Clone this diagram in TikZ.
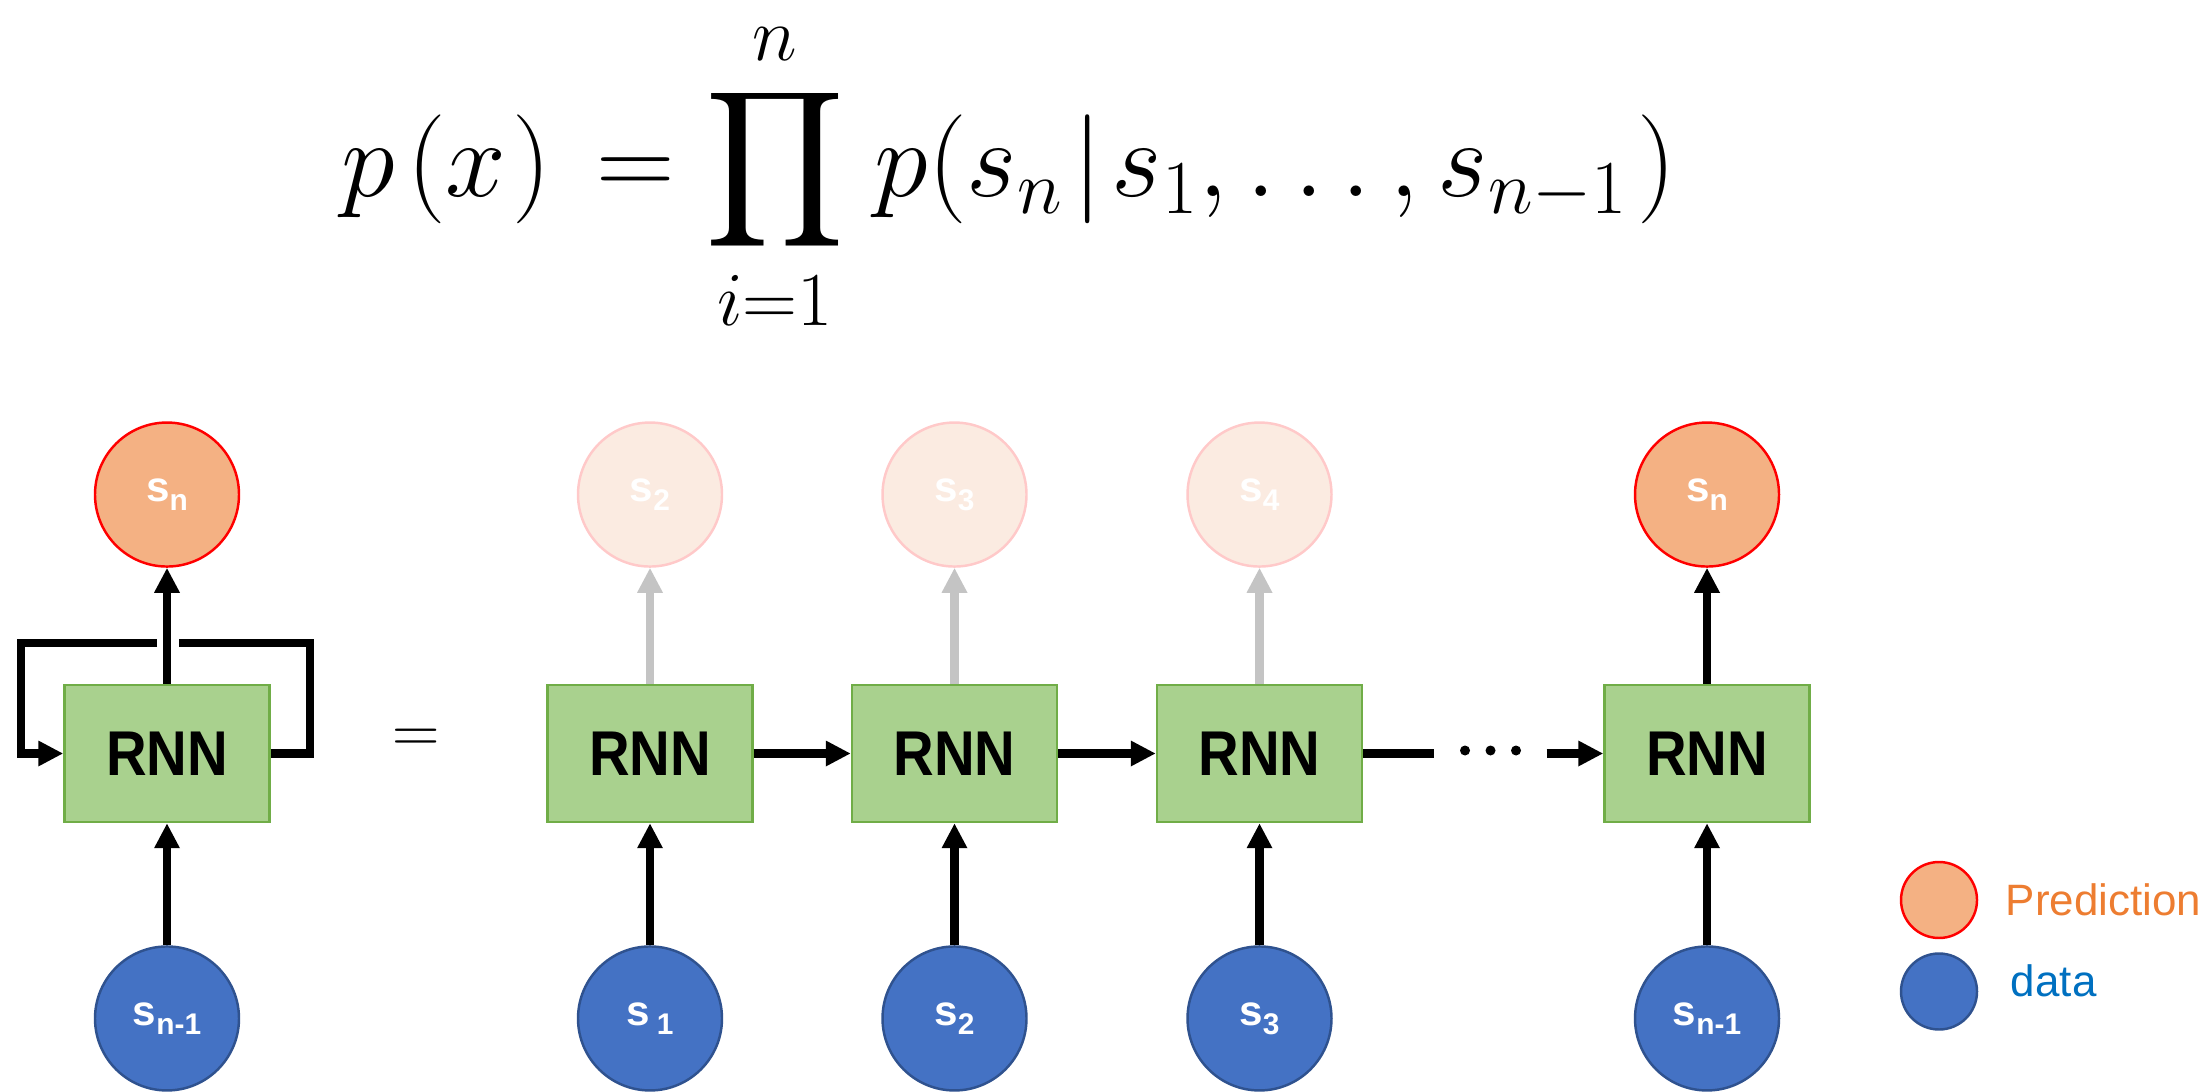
\RequirePackage{fix-cm}
\documentclass[tikz,border=0pt]{standalone}
\usepackage{amsmath,amssymb}
\usepackage{graphicx}
\usepackage{fontspec}
\setmainfont{Liberation Sans}
\usepackage{xcolor}
\usepackage{tikz}
\usetikzlibrary{positioning,arrows.meta,calc}

\definecolor{predfill}{HTML}{F4B183}
\definecolor{prededge}{HTML}{FF0000}
\definecolor{fadefill}{HTML}{FBEBE1}
\definecolor{fadeedge}{HTML}{FFC9C9}
\definecolor{datafill}{HTML}{4472C4}
\definecolor{dataedge}{HTML}{2F528F}
\definecolor{rnnfill}{HTML}{A9D18E}
\definecolor{rnnedge}{HTML}{70AD47}
\definecolor{fadearrow}{HTML}{C4C4C4}
\definecolor{predtext}{HTML}{ED7D31}
\definecolor{datatext}{HTML}{0070C0}

\newcommand{\seq}[1]{s\raisebox{-2.5pt}{\fontsize{8.5}{9}\selectfont #1}}

\begin{document}
\begin{tikzpicture}[
  node distance=1.16cm,
  rnnbox/.style={draw=rnnedge, fill=rnnfill, line width=0.7pt, minimum width=2.05cm,
    minimum height=1.37cm, inner sep=0pt, font=\fontsize{18}{20}\selectfont\bfseries},
  state/.style={circle, minimum size=1.44cm, inner sep=0pt, line width=0.7pt, text=white,
    font=\fontsize{12}{14}\selectfont\bfseries},
  pred/.style={state, draw=prededge, fill=predfill},
  fade/.style={state, draw=fadeedge, fill=fadefill},
  data/.style={state, draw=dataedge, fill=datafill},
  legdot/.style={circle, minimum size=0.76cm, inner sep=0pt, line width=0.7pt},
  legtext/.style={inner sep=0pt, font=\fontsize{12.5}{14}\selectfont},
  link/.style={line width=2.4pt},
  arr/.style={link, -{Triangle[length=0.25cm,width=0.24cm]}},
  fadearr/.style={arr, draw=fadearrow}]
\useasboundingbox (0,0) rectangle (22.06,-10.92);

\node[anchor=base, inner sep=0pt] (formula) at (10.09,-1.97) {\fontsize{31}{36}\selectfont
  $\displaystyle p\mkern2mu(x\mkern1mu)\mkern2.5mu = \prod_{i=1}^{n}\mkern2mu
  p(s_n\mkern1.5mu|\mkern1.5mu s_1, \ldots, s_{n-1}\mkern1.5mu)$};

\node[rnnbox] (L) at (1.67,-7.535) {\scalebox{0.89}[1]{RNN}};
\node[pred, above=of L] (Lout) {\seq{n}};
\node[data, below=1.22cm of L] (Lin) {\seq{n-1}};
\coordinate (loopNE) at (3.10,-6.43);
\coordinate (loopNW) at (0.21,-6.43);
\coordinate (gapR) at (1.79,-6.43);
\coordinate (gapL) at (1.57,-6.43);
\draw[link] (L.east) -| (loopNE) -- (gapR);
\draw[arr] (gapL) -- (loopNW) |- (L.west);
\draw[arr] (L) -- (Lout);
\draw[arr] (Lin) -- (L);

\node[font=\fontsize{18.7}{20}\selectfont] (eq) at (4.16,-7.41) {$=$};

\node[rnnbox] (r1) at (6.50,-7.535) {\scalebox{0.89}[1]{RNN}};
\node[rnnbox] (r2) at (9.545,-7.535) {\scalebox{0.89}[1]{RNN}};
\node[rnnbox] (r3) at (12.595,-7.535) {\scalebox{0.89}[1]{RNN}};
\node[rnnbox] (r4) at (17.07,-7.535) {\scalebox{0.89}[1]{RNN}};

\node[fade, above=of r1] (o1) {\seq{2}};
\node[fade, above=of r2] (o2) {\seq{3}};
\node[fade, above=of r3] (o3) {\seq{4}};
\node[pred, above=of r4] (o4) {\seq{n}};

\node[data, below=1.22cm of r1] (i1) {s\,\raisebox{-2.5pt}{\fontsize{8.5}{9}\selectfont 1}};
\node[data, below=1.22cm of r2] (i2) {\seq{2}};
\node[data, below=1.22cm of r3] (i3) {\seq{3}};
\node[data, below=1.22cm of r4] (i4) {\seq{n-1}};

\node[minimum width=1.11cm, minimum height=0.2cm, inner sep=0pt] (dots) at (14.905,-7.535) {};
\foreach \k in {-1,0,1}
  \fill ($(dots.center)+(\k*0.255,0.03)$) circle (0.05);

\draw[arr] (r1) -- (r2);
\draw[arr] (r2) -- (r3);
\draw[link] (r3.east) -- (dots.west);
\draw[arr] (dots.east) -- (r4.west);

\foreach \n in {1,2,3}
  \draw[fadearr] (r\n) -- (o\n);
\draw[arr] (r4) -- (o4);
\foreach \n in {1,...,4}
  \draw[arr] (i\n) -- (r\n);

\node[legdot, draw=prededge, fill=predfill] (legpred) at (19.39,-9.00) {};
\node[legdot, draw=dataedge, fill=datafill] (legdata) at (19.39,-9.915) {};
\node[legtext, text=predtext, right=0.27cm of legpred] (predlabel) {Prediction};
\node[legtext, text=datatext, right=0.32cm of legdata, yshift=0.11cm] (datalabel) {data};
\end{tikzpicture}
\end{document}
